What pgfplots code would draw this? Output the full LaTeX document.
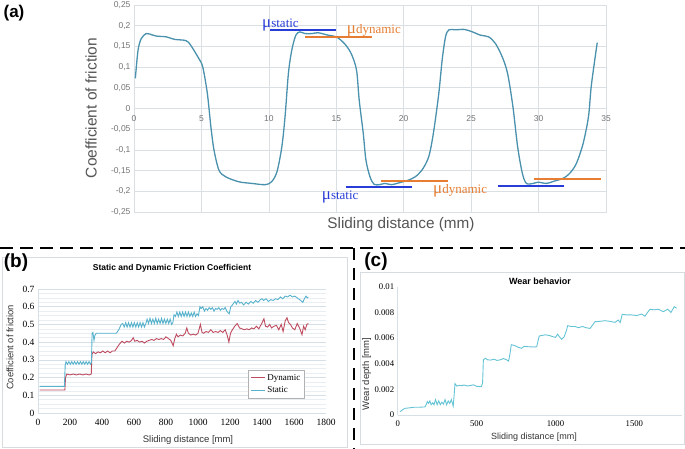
\documentclass[border=0pt]{standalone}
\usepackage{pgfplots}
\pgfplotsset{compat=1.18}
\usepackage{fontspec}
\setmainfont{Liberation Sans}
\newfontfamily\serif{Liberation Serif}
\newcommand\fs[1]{\fontsize{#1}{#1}\selectfont}
\definecolor{acurve}{RGB}{73,145,172}
\definecolor{agrid}{RGB}{218,223,228}
\definecolor{atick}{RGB}{115,115,115}
\definecolor{alabel}{RGB}{85,85,85}
\definecolor{mublue}{RGB}{40,60,215}
\definecolor{muorange}{RGB}{230,125,50}
\definecolor{bstatic}{RGB}{88,178,204}
\definecolor{bdyn}{RGB}{190,75,95}
\definecolor{bgridmaj}{RGB}{214,224,230}
\definecolor{bgridmin}{RGB}{232,238,242}
\definecolor{ccurve}{RGB}{100,195,212}
\definecolor{frame}{RGB}{215,220,225}
\begin{document}
\begin{tikzpicture}[x=1pt,y=1pt]

% ---------------- panel (a)
\begin{axis}[at={(134pt,237pt)}, anchor=south west, scale only axis,
 width=472pt, height=207pt,
 xmin=0, xmax=35, ymin=-0.25, ymax=0.25,
 xtick={0,5,10,15,20,25,30,35},
 ytick={-0.25,-0.2,-0.15,-0.1,-0.05,0,0.05,0.1,0.15,0.2,0.25},
 grid=major, major grid style={draw=agrid, line width=0.6pt},
 axis line style={draw=agrid, line width=0.6pt},
 major tick length=0pt,
 /pgf/number format/assume math mode=true,
 ticklabel style={font=\fs{8.5}, text=atick},
 yticklabel style={/pgf/number format/.cd, fixed, precision=2, use comma},
 xticklabel style={anchor=center, yshift=93pt},
 clip=false]
\addplot[acurve, line width=1.3pt, smooth, no markers] coordinates {
(0.1,0.073) (0.3,0.141) (0.54,0.169) (0.9,0.181) (1.15,0.18) (1.64,0.175)
(2.4,0.173) (3.0,0.167) (3.85,0.164) (4.2,0.153) (4.8,0.121) (5.1,0.1)
(5.44,0.036) (5.7,-0.044) (5.93,-0.1) (6.3,-0.149) (6.8,-0.165) (7.77,-0.177)
(8.75,-0.181) (9.73,-0.184) (10.2,-0.177) (10.6,-0.153) (10.96,-0.093)
(11.2,-0.02) (11.45,0.085) (11.7,0.141) (12.0,0.177) (12.3,0.185) (12.67,0.181)
(13.2,0.181) (13.65,0.183) (14.4,0.177) (15,0.173) (15.6,0.157) (16.1,0.133)
(16.5,0.093) (16.7,0.02) (17.0,-0.06) (17.2,-0.125) (17.5,-0.165) (17.8,-0.183)
(18.2,-0.184) (18.6,-0.181) (19.1,-0.184) (19.6,-0.18) (20.35,-0.173)
(20.85,-0.165) (21.35,-0.149) (21.85,-0.117) (22.2,-0.06) (22.6,0.036)
(22.85,0.117) (23.1,0.173) (23.35,0.19) (23.85,0.19) (24.5,0.191) (25.1,0.185)
(25.7,0.177) (26.3,0.173) (26.8,0.157) (27.3,0.125) (27.7,0.085) (28.1,0.004)
(28.45,-0.093) (28.8,-0.157) (29.1,-0.181) (29.6,-0.181) (29.95,-0.178)
(30.6,-0.181) (31.1,-0.176) (31.8,-0.169) (32.3,-0.157) (32.8,-0.133)
(33.3,-0.085) (33.7,-0.02) (33.9,0.052) (34.2,0.125) (34.35,0.159)};
\addplot[mublue, line width=2pt] coordinates {(10.1,0.19) (15,0.19)};
\addplot[muorange, line width=2pt] coordinates {(12.67,0.172) (17.67,0.172)};
\addplot[mublue, line width=2pt] coordinates {(15.7,-0.19) (20.6,-0.19)};
\addplot[muorange, line width=2pt] coordinates {(18.3,-0.174) (23.3,-0.174)};
\addplot[mublue, line width=2pt] coordinates {(27.0,-0.187) (31.9,-0.187)};
\addplot[muorange, line width=2pt] coordinates {(29.65,-0.171) (34.6,-0.171)};
\end{axis}
\node[anchor=base west, inner sep=0, text=mublue, font=\serif] at (262,421.7) {{\fs{17}μ}{\fs{13}static}};
\node[anchor=base west, inner sep=0, text=muorange, font=\serif] at (346.7,415.7) {{\fs{17}μ}{\fs{13}dynamic}};
\node[anchor=base west, inner sep=0, text=mublue, font=\serif] at (321.7,249) {{\fs{17}μ}{\fs{13}static}};
\node[anchor=base west, inner sep=0, text=muorange, font=\serif] at (433,255) {{\fs{17}μ}{\fs{13}dynamic}};
\node[rotate=90, text=alabel, font=\fs{15.5}] at (91,341) {Coefficient of friction};
\node[text=alabel, font=\fs{15.3}] at (401,224) {Sliding distance (mm)};
\node[font=\bfseries\fs{17}] at (14,436) {(a)};

% ---------------- separators
\draw[line width=2.6pt, dash pattern=on 13pt off 7pt] (0,201) -- (685,201);
\draw[line width=2.6pt, dash pattern=on 12pt off 8pt] (354,201) -- (354,0);

% ---------------- panel (b)
\draw[frame, line width=0.7pt] (2,2) rectangle (347,192);
\begin{axis}[at={(38pt,36pt)}, anchor=south west, scale only axis,
 width=288pt, height=124pt,
 xmin=0, xmax=1800, ymin=0, ymax=0.7,
 xtick={0,200,400,600,800,1000,1200,1400,1600,1800},
 ytick={0,0.1,0.2,0.3,0.4,0.5,0.6,0.7},
 minor y tick num=3,
 ymajorgrids, yminorgrids,
 major grid style={draw=bgridmaj, line width=0.6pt},
 minor grid style={draw=bgridmin, line width=0.5pt},
 axis x line*=bottom, axis y line*=left,
 axis line style={draw=bgridmaj, line width=0.6pt},
 major tick length=0pt, minor tick length=0pt,
 /pgf/number format/assume math mode=true,
 /pgf/number format/1000 sep={},
 ticklabel style={font=\serif\fs{9.5}},
 xticklabel style={yshift=-3pt},
 yticklabel style={/pgf/number format/.cd, fixed, precision=1},
 legend style={at={(0.73,0.347)}, anchor=north west, draw=gray!60,
   font=\serif\fs{9}, inner sep=2pt, row sep=1pt, cells={anchor=west}},
 legend image code/.code={\draw[#1] (0pt,0pt) -- (14pt,0pt);}]
\addplot[bdyn, line width=0.9pt, no markers] coordinates {
(10,0.13) (168,0.13) (172,0.2) (180,0.22) (200,0.215) (220,0.22) (240,0.215)
(260,0.22) (280,0.215) (300,0.22) (320,0.215) (333,0.22) (337,0.33) (345,0.345)
(360,0.335) (375,0.345) (390,0.34) (405,0.35) (420,0.34) (435,0.35) (450,0.34)
(465,0.35) (480,0.35) (495,0.37) (510,0.39) (525,0.405) (540,0.395) (555,0.405)
(570,0.4) (585,0.41) (595,0.425) (605,0.405) (620,0.41) (635,0.4) (650,0.405)
(665,0.395) (680,0.405) (695,0.41) (710,0.415) (725,0.41) (740,0.42) (755,0.415)
(770,0.42) (785,0.415) (800,0.43) (815,0.42) (830,0.41) (845,0.38) (855,0.42)
(865,0.445) (875,0.43) (890,0.44) (905,0.435) (920,0.45) (930,0.48) (940,0.45)
(955,0.44) (970,0.445) (985,0.44) (1000,0.45) (1015,0.5) (1025,0.455)
(1035,0.45) (1050,0.46) (1065,0.455) (1080,0.47) (1095,0.455) (1110,0.46)
(1125,0.455) (1140,0.465) (1155,0.455) (1170,0.47) (1182,0.44) (1193,0.4)
(1203,0.45) (1215,0.47) (1230,0.49) (1245,0.505) (1260,0.48) (1275,0.475)
(1290,0.47) (1305,0.475) (1320,0.47) (1335,0.48) (1350,0.475) (1365,0.49)
(1380,0.475) (1398,0.505) (1412,0.532) (1422,0.49) (1435,0.485) (1448,0.5)
(1460,0.48) (1475,0.49) (1490,0.495) (1505,0.47) (1520,0.5) (1532,0.46)
(1545,0.52) (1556,0.538) (1566,0.51) (1578,0.5) (1590,0.48) (1605,0.47)
(1620,0.505) (1635,0.48) (1650,0.442) (1660,0.49) (1670,0.47) (1680,0.5)
(1690,0.505)};
\addlegendentry{Dynamic}
\addplot[bstatic, line width=0.9pt, no markers] coordinates {
(10,0.15) (165,0.15) (170,0.27) (175,0.29) (184,0.275) (193,0.29) (202,0.275)
(211,0.29) (220,0.275) (229,0.29) (238,0.275) (247,0.29) (256,0.275) (265,0.29)
(274,0.275) (283,0.29) (292,0.275) (301,0.29) (310,0.275) (319,0.29) (328,0.275)
(334,0.285) (338,0.45) (343,0.455) (350,0.41) (356,0.44) (365,0.45) (400,0.45)
(450,0.45) (490,0.45) (505,0.47) (520,0.5) (530,0.505) (539,0.485) (548,0.51)
(557,0.485) (566,0.51) (575,0.485) (584,0.51) (593,0.485) (602,0.51) (611,0.485)
(620,0.51) (629,0.485) (638,0.51) (647,0.485) (656,0.51) (665,0.485) (674,0.505)
(682,0.53) (691,0.505) (700,0.535) (709,0.505) (718,0.53) (727,0.505) (736,0.535)
(745,0.505) (754,0.53) (763,0.505) (772,0.535) (781,0.505) (790,0.53) (799,0.505)
(808,0.53) (817,0.505) (826,0.53) (835,0.5) (843,0.51) (850,0.555) (859,0.545)
(868,0.57) (877,0.545) (886,0.57) (895,0.545) (904,0.57) (913,0.545) (922,0.57)
(931,0.545) (940,0.57) (949,0.545) (958,0.565) (967,0.545) (976,0.57) (985,0.545)
(994,0.56) (1003,0.55) (1012,0.6) (1020,0.59) (1030,0.6) (1040,0.575) (1050,0.59)
(1060,0.58) (1070,0.595) (1080,0.585) (1090,0.595) (1100,0.575) (1110,0.59)
(1120,0.585) (1130,0.595) (1140,0.58) (1150,0.59) (1160,0.585) (1170,0.595)
(1180,0.575) (1195,0.56) (1205,0.6) (1215,0.61) (1231,0.63) (1240,0.615)
(1250,0.635) (1260,0.62) (1272,0.625) (1285,0.61) (1300,0.625) (1315,0.615)
(1330,0.63) (1345,0.62) (1360,0.635) (1375,0.625) (1390,0.64) (1400,0.645)
(1410,0.635) (1425,0.645) (1440,0.63) (1455,0.64) (1470,0.635) (1485,0.645)
(1500,0.64) (1515,0.655) (1530,0.645) (1545,0.66) (1560,0.655) (1575,0.665)
(1590,0.655) (1605,0.66) (1620,0.65) (1635,0.64) (1655,0.625) (1665,0.645)
(1675,0.66) (1683,0.65) (1690,0.655)};
\addlegendentry{Static}
\end{axis}
\node[font=\bfseries\fs{8.5}] at (172,181) {Static and Dynamic Friction Coefficient};
\node[rotate=90, text=black!80, font=\fs{9.4}] at (10,101.5) {Coefficient of friction};
\node[text=black!80, font=\fs{9.5}] at (188,9) {Sliding distance [mm]};
\node[font=\bfseries\fs{19}] at (16,186) {(b)};

% ---------------- panel (c)
\draw[frame, line width=0.7pt] (360,5) rectangle (684,176.7);
\begin{axis}[at={(397.7pt,34pt)}, anchor=south west, scale only axis,
 width=284pt, height=128.3pt,
 xmin=0, xmax=1800, ymin=0, ymax=0.01,
 xtick={0,500,1000,1500},
 ytick={0,0.002,0.004,0.006,0.008,0.01},
 scaled y ticks=false,
 axis x line*=bottom, axis y line*=left,
 axis line style={draw=bgridmaj, line width=0.6pt},
 major tick length=0pt,
 /pgf/number format/assume math mode=true,
 /pgf/number format/1000 sep={},
 ticklabel style={font=\serif\fs{8.7}},
 xticklabel style={yshift=-2pt},
 yticklabel style={/pgf/number format/.cd, fixed, precision=3}]
\addplot[ccurve, line width=0.9pt, no markers] coordinates {
(15,0.00026) (30,0.0004) (46,0.00052) (70,0.00055) (100,0.0006) (130,0.0006)
(173,0.00063) (180,0.0008) (188,0.00105) (196,0.0009) (204,0.0011) (212,0.0008)
(222,0.00095) (230,0.0008) (240,0.0012) (250,0.0008) (260,0.0011) (270,0.0008)
(280,0.001) (290,0.00085) (300,0.0012) (310,0.0008) (320,0.0011) (330,0.0009)
(340,0.0012) (352,0.0007) (358,0.0016) (363,0.00245) (375,0.00225)
(390,0.00232) (405,0.00228) (420,0.00234) (440,0.00226) (460,0.0023)
(480,0.00235) (500,0.00224) (515,0.00222) (530,0.0022) (538,0.0025)
(543,0.0043) (555,0.00442) (570,0.0043) (590,0.00428) (610,0.00435)
(630,0.00425) (650,0.0043) (670,0.0044) (690,0.0043) (703,0.0042) (712,0.0048)
(720,0.00548) (740,0.00542) (760,0.0053) (785,0.0052) (800,0.00535)
(830,0.00532) (860,0.0053) (881,0.00532) (890,0.0058) (897,0.00616)
(915,0.0062) (935,0.00625) (960,0.0062) (985,0.0061) (1000,0.00605)
(1014,0.0063) (1025,0.0061) (1039,0.0059) (1055,0.0061) (1070,0.0066)
(1077,0.00696) (1100,0.0069) (1125,0.0069) (1145,0.0068) (1170,0.0069)
(1195,0.0068) (1219,0.00675) (1235,0.007) (1250,0.00727) (1280,0.0073)
(1314,0.00735) (1345,0.0073) (1377,0.00722) (1398,0.0074) (1410,0.0072)
(1423,0.00785) (1450,0.0078) (1483,0.0078) (1515,0.00775) (1546,0.00787)
(1567,0.0077) (1584,0.008) (1599,0.00824) (1625,0.0082) (1652,0.00824)
(1683,0.00805) (1711,0.00824) (1732,0.008) (1753,0.00844) (1768,0.00832)};
\end{axis}
\node[font=\bfseries\fs{9}] at (540,168) {Wear behavior};
\node[rotate=90, text=black!80, font=\fs{9.5}] at (366.7,75) {Wear depth [mm]};
\node[text=black!80, font=\fs{9}] at (534,12) {Sliding distance [mm]};
\node[font=\bfseries\fs{19}] at (376,187) {(c)};

\pgfresetboundingbox
\path[use as bounding box] (0,0) rectangle (685,449);
\end{tikzpicture}
\end{document}
